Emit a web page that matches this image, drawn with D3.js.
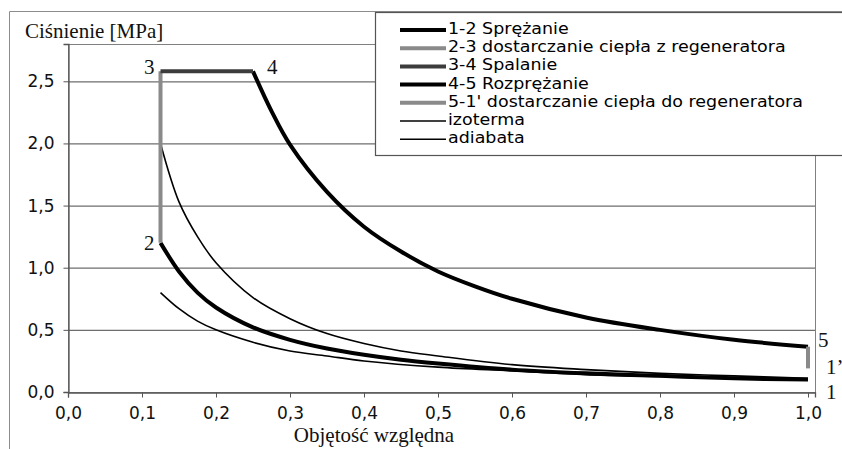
<!DOCTYPE html>
<html>
<head>
<meta charset="utf-8">
<script src="https://cdn.jsdelivr.net/npm/d3@7"></script>
<style>
  html, body { margin: 0; padding: 0; background: #fff; }
  svg { display: block; }
</style>
</head>
<body>
<svg id="chart" width="842" height="449"></svg>
<script>
// ---------- DATA ----------
const xTicks = [0, 0.1, 0.2, 0.3, 0.4, 0.5, 0.6, 0.7, 0.8, 0.9, 1.0];
const yTicks = [0, 0.5, 1.0, 1.5, 2.0, 2.5];

// 1-2 Sprężanie (compression)
const compV = [1.0, 0.9, 0.8, 0.7, 0.6, 0.5, 0.45, 0.4, 0.35, 0.3, 0.25, 0.2, 0.175, 0.15, 0.125];
const compP = [0.10, 0.11, 0.13, 0.15, 0.18, 0.23, 0.26, 0.30, 0.35, 0.42, 0.52, 0.68, 0.80, 0.97, 1.20];
// 2-3 dostarczanie ciepła z regeneratora
const regInV = [0.125, 0.125];
const regInP = [1.20, 2.58];
// 3-4 Spalanie
const combV = [0.125, 0.25];
const combP = [2.58, 2.58];
// 4-5 Rozprężanie (expansion)
const expV = [0.25, 0.275, 0.3, 0.35, 0.4, 0.45, 0.5, 0.55, 0.6, 0.7, 0.8, 0.9, 1.0];
const expP = [2.58, 2.26, 1.99, 1.61, 1.33, 1.13, 0.97, 0.85, 0.75, 0.60, 0.50, 0.42, 0.365];
// 5-1' dostarczanie ciepła do regeneratora
const regOutV = [1.0, 1.0];
const regOutP = [0.365, 0.19];
// izoterma
const isoV = [0.125, 0.15, 0.175, 0.2, 0.25, 0.3, 0.35, 0.4, 0.5, 0.6, 0.7, 0.8, 0.9, 1.0];
const isoP = [0.80, 0.67, 0.57, 0.50, 0.40, 0.33, 0.29, 0.25, 0.20, 0.17, 0.14, 0.125, 0.11, 0.10];
// adiabata
const adiV = [0.125, 0.15, 0.175, 0.2, 0.25, 0.3, 0.35, 0.4, 0.45, 0.5, 0.6, 0.7, 0.8, 0.9, 1.0];
const adiP = [2.00, 1.53, 1.25, 1.04, 0.76, 0.59, 0.47, 0.39, 0.33, 0.29, 0.22, 0.18, 0.15, 0.13, 0.11];

const seriesNames = [
  "1-2 Sprężanie",
  "2-3 dostarczanie ciepła z regeneratora",
  "3-4 Spalanie",
  "4-5 Rozprężanie",
  "5-1' dostarczanie ciepła do regeneratora",
  "izoterma",
  "adiabata"
];
const yTitle = "Ciśnienie [MPa]";
const xTitle = "Objętość względna";

// point labels attached to data points
const pointNames = ["1", "2", "3", "4", "5", "1’"];
const pointV = [1.0, 0.125, 0.125, 0.25, 1.0, 1.0];
const pointP = [0.10, 1.20, 2.58, 2.58, 0.365, 0.19];

// ---------- STYLES ----------
const styles = [
  { color: "#000000", width: 4 },
  { color: "#8a8a8a", width: 4 },
  { color: "#3c3c3c", width: 4 },
  { color: "#000000", width: 4 },
  { color: "#8a8a8a", width: 4 },
  { color: "#000000", width: 1.6 },
  { color: "#000000", width: 1.6 }
];
const pointOffsets = [
  { dx: 18, dy: 19, anchor: "start" },
  { dx: -6, dy: 7, anchor: "end" },
  { dx: -6, dy: 3, anchor: "end" },
  { dx: 14, dy: 3, anchor: "start" },
  { dx: 10, dy: 0, anchor: "start" },
  { dx: 18, dy: 6, anchor: "start" }
];

const svg = d3.select("#chart");
const m = { left: 68, right: 815, top: 44, bottom: 392 };

// 0 -> 68 px, 1.0 -> 808 px; plot area extends slightly past 1.0
const x = d3.scaleLinear().domain([0, (m.right - m.left) / 740]).range([m.left, m.right]);
const y = d3.scaleLinear().domain([0, 2.8]).range([m.bottom, m.top]);

const fmt = d => d3.format(".1f")(d).replace(".", ",");

// outer chart frame (left + top)
svg.append("path")
  .attr("d", `M9.5,449 L9.5,11.5 L842,11.5`)
  .attr("fill", "none").attr("stroke", "#8c8c8c").attr("stroke-width", 1);

// plot area border
svg.append("rect")
  .attr("x", m.left + 0.5).attr("y", m.top + 0.5)
  .attr("width", m.right - m.left).attr("height", m.bottom - m.top)
  .attr("fill", "#fff").attr("stroke", "#808080").attr("stroke-width", 1);

// horizontal gridlines
svg.append("g")
  .attr("transform", `translate(${m.left},0)`)
  .call(d3.axisLeft(y).tickValues(yTicks.filter(d => d > 0)).tickSize(-(m.right - m.left)).tickFormat(""))
  .call(g => g.select(".domain").remove())
  .call(g => g.selectAll("line").attr("stroke", "#6e6e6e").attr("stroke-width", 1.2));

// y axis
const yAxis = svg.append("g")
  .attr("transform", `translate(${m.left + 0.5},0)`)
  .call(d3.axisLeft(y).tickValues(yTicks).tickSize(5).tickPadding(9).tickFormat(fmt));
yAxis.select(".domain").attr("stroke", "#555").attr("stroke-width", 1.3);
yAxis.selectAll("line").attr("stroke", "#555");
yAxis.selectAll("text").attr("font-family", "DejaVu Sans").attr("font-size", 17).attr("fill", "#111");

// x axis
const xAxis = svg.append("g")
  .attr("transform", `translate(0,${m.bottom + 0.5})`)
  .call(d3.axisBottom(x).tickValues(xTicks).tickSize(5).tickPadding(9).tickFormat(fmt));
xAxis.select(".domain").attr("stroke", "#555").attr("stroke-width", 1.3);
xAxis.selectAll("line").attr("stroke", "#555");
xAxis.selectAll("text").attr("font-family", "DejaVu Sans").attr("font-size", 17).attr("fill", "#111");

// series
const seriesData = [
  [compV, compP], [regInV, regInP], [combV, combP], [expV, expP],
  [regOutV, regOutP], [isoV, isoP], [adiV, adiP]
];
const line = d3.line().x(d => x(d[0])).y(d => y(d[1])).curve(d3.curveCatmullRom.alpha(0.5));
const drawOrder = [5, 6, 0, 3, 1, 2, 4];
drawOrder.forEach(i => {
  const [vs, ps] = seriesData[i];
  const pts = vs.map((v, k) => [v, ps[k]]);
  svg.append("path")
    .datum(pts)
    .attr("d", line)
    .attr("fill", "none")
    .attr("stroke", styles[i].color)
    .attr("stroke-width", styles[i].width)
    .attr("stroke-linejoin", "round")
    .attr("stroke-linecap", "butt");
});

// point labels
pointNames.forEach((t, i) => {
  svg.append("text")
    .attr("x", x(pointV[i]) + pointOffsets[i].dx)
    .attr("y", y(pointP[i]) + pointOffsets[i].dy)
    .attr("text-anchor", pointOffsets[i].anchor)
    .attr("font-family", "Liberation Serif")
    .attr("font-size", 21)
    .attr("fill", "#111")
    .text(t);
});

// axis titles
svg.append("text")
  .attr("x", 25).attr("y", 38)
  .attr("font-family", "Liberation Serif").attr("font-size", 21).attr("fill", "#111")
  .text(yTitle);
svg.append("text")
  .attr("x", 374).attr("y", 442)
  .attr("text-anchor", "middle")
  .attr("font-family", "Liberation Serif").attr("font-size", 21).attr("fill", "#111")
  .text(xTitle);

// legend
const lg = svg.append("g");
lg.append("rect")
  .attr("x", 375.5).attr("y", 12.5).attr("width", 480).attr("height", 143)
  .attr("fill", "#fff").attr("stroke", "#555").attr("stroke-width", 1.2);
const rowY0 = 30, rowStep = 18.2;
seriesNames.forEach((name, i) => {
  const yy = rowY0 + i * rowStep;
  lg.append("line")
    .attr("x1", 400).attr("x2", 446).attr("y1", yy).attr("y2", yy)
    .attr("stroke", styles[i].color).attr("stroke-width", styles[i].width);
  const t = lg.append("text")
    .attr("x", 448).attr("y", yy + 4)
    .attr("font-family", "DejaVu Sans").attr("font-size", 18).attr("fill", "#000")
    .text(name);
  // keep the reference's text width, but use a smaller glyph box so rows don't collide
  const w = t.node().getComputedTextLength() * 0.97;
  t.attr("font-size", 15.5)
    .attr("textLength", w)
    .attr("lengthAdjust", "spacingAndGlyphs");
});
</script>
</body>
</html>
